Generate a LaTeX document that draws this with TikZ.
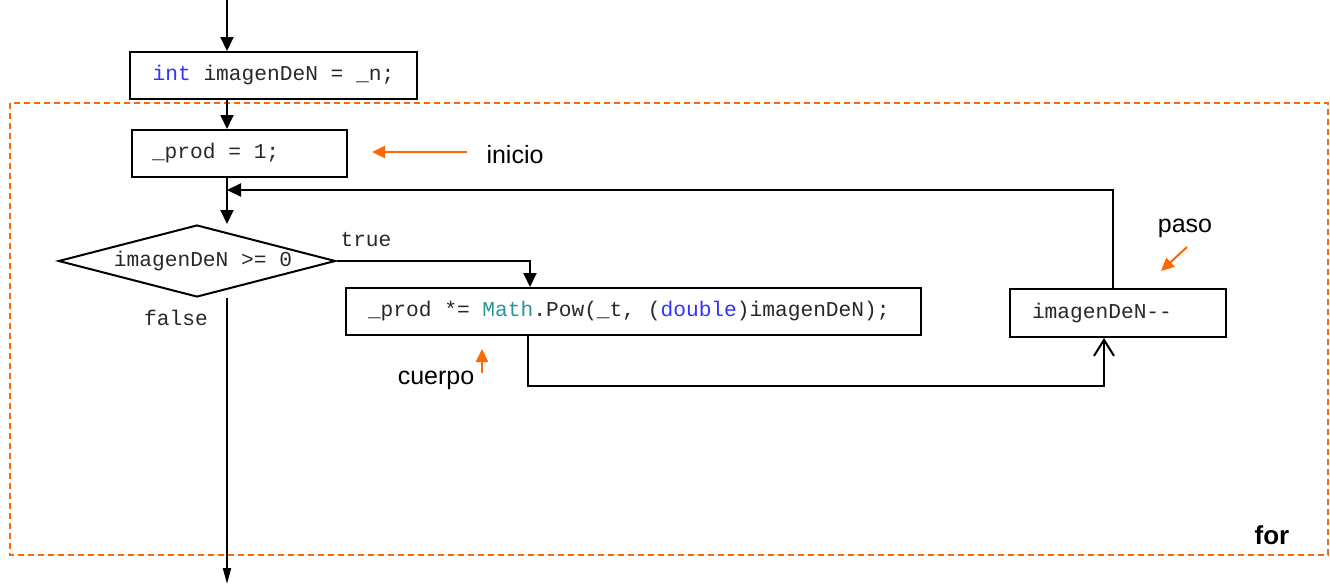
\documentclass[tikz,border=0pt]{standalone}
\usepackage{fontspec}
\setmainfont{Liberation Sans}
\newfontfamily\codefont{Liberation Mono}
\usetikzlibrary{arrows.meta,shapes.geometric}
\definecolor{kwblue}{RGB}{51,51,255}
\definecolor{typeteal}{RGB}{43,150,150}
\definecolor{codegray}{RGB}{40,40,40}
\definecolor{noteorange}{RGB}{255,102,0}
% left-aligned code line of a fixed width
\newcommand\codeline[2]{\makebox[#1][l]{#2}}
\tikzset{
  flow/.style={line width=1pt,draw=black},
  tipfill/.style={-{Triangle[length=7pt,width=6.5pt]}},
  stmt/.style={draw=black,line width=1pt,minimum height=23.5pt,inner ysep=0pt,
    font=\codefont\fontsize{10.6}{12}\selectfont,text=codegray},
  cond/.style={diamond,draw=black,line width=1pt,inner sep=0pt,aspect=3.85,
    minimum width=138.5pt,minimum height=36pt,font=\codefont\fontsize{10.6}{12}\selectfont,text=codegray},
  lbl/.style={font=\codefont\fontsize{10.6}{12}\selectfont,text=codegray,inner sep=0pt},
  note/.style={font=\fontsize{12.5}{14}\selectfont,inner sep=0pt},
  notearrow/.style={draw=noteorange,line width=1pt,-{Triangle[length=6.5pt,width=6pt]}},
}
\begin{document}
\begin{tikzpicture}[x=0.5pt,y=-0.5pt]
\useasboundingbox (0,0) rectangle (1330,584);

% frame of the for loop
\draw[noteorange,line width=0.8pt,dash pattern=on 3pt off 2pt] (10,103) rectangle (1328,555);
\node[font=\bfseries\fontsize{13}{15}\selectfont,inner sep=0pt] (forlbl) at (1272,535) {for};

% statements
\node[stmt,minimum width=143.5pt] (b1) at (273.5,75.5)
  {\textcolor{kwblue}{int} imagenDeN = \_n;};
\node[stmt,inner xsep=10pt] (b2) at (239.5,153.5) {\codeline{87.5pt}{\_prod = 1;}};
\node[cond] (d) at (197,261) {\hspace{6pt}imagenDeN >= 0};
\node[stmt,inner xsep=11pt] (b3) at (633.5,311.5)
  {\codeline{265.5pt}{\_prod *= \textcolor{typeteal}{Math}.Pow(\_t, (\textcolor{kwblue}{double})imagenDeN);}};
\node[stmt,inner xsep=11pt,minimum height=24pt] (b4) at (1118,313) {\codeline{86pt}{imagenDeN-{}-}};

% control flow
\coordinate (top) at (227,0);
\coordinate (merge) at (227,190);
\coordinate (exit) at (227,584);
\draw[flow,tipfill] (top) -- (top |- b1.north);
\draw[flow,tipfill] (top |- b1.south) -- (top |- b2.north);
\draw[flow,tipfill] (top |- b2.south) -- (top |- d.north);
\draw[flow,tipfill] ([xshift=-2.5pt]b4.north) |- (merge);
\draw[flow,tipfill] (d.east) -| ([xshift=-51.75pt]b3.north);
\draw[flow,-{Straight Barb[length=8pt,width=10pt]}] ([xshift=-52.75pt]b3.south) -- ++(0,50) -| ([xshift=-7pt]b4.south);
\draw[flow,-{Triangle[length=8pt,width=4pt]}] (top |- d.south) -- (exit);

\node[lbl] (tlbl) at (366,240) {true};
\node[lbl] (flbl) at (176,318) {false};

% annotations
\node[note] (inicio) at (515,155) {inicio};
\coordinate (inicioTip) at (372,152);
\draw[notearrow] (467,152) -- (inicioTip);
\node[note] (cuerpo) at (436,380) {cuerpo};
\coordinate (cuerpoTip) at (482,349);
\draw[notearrow] (482,373) -- (cuerpoTip);
\node[note] (paso) at (1185,228) {paso};
\coordinate (pasoTip) at (1161,271);
\draw[notearrow] (1187,247) -- (pasoTip);
\end{tikzpicture}
\end{document}
